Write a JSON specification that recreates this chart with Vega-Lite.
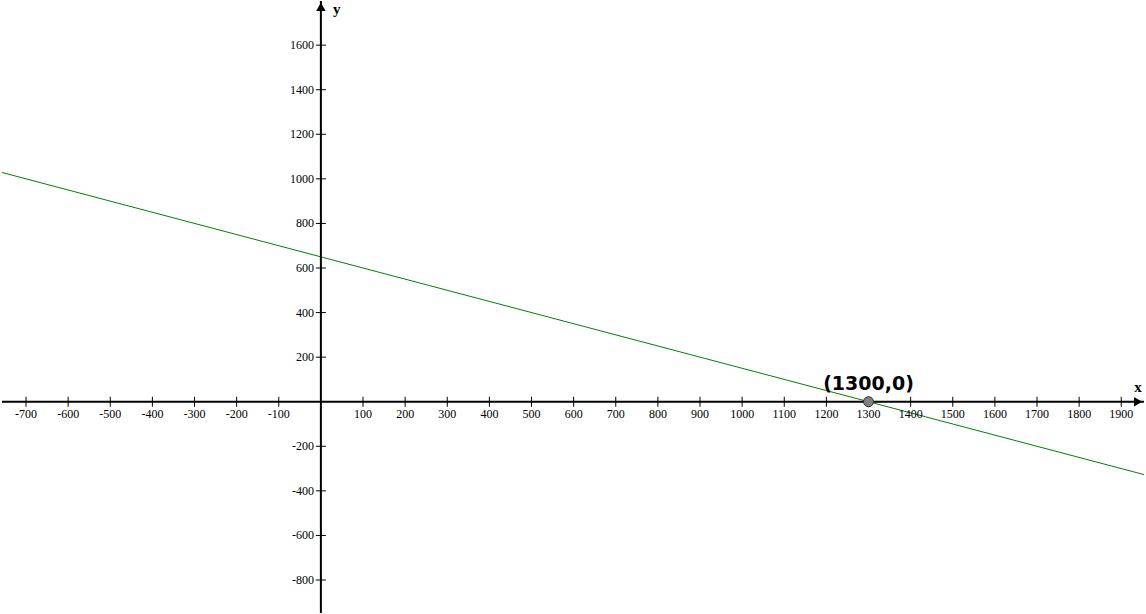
{
  "$schema": "https://vega.github.io/schema/vega-lite/v6.json",
  "width": 1146,
  "height": 614,
  "padding": 0,
  "autosize": {"type": "fit", "contains": "padding"},
  "background": "white",
  "config": {"view": {"stroke": null}, "axis": null},
  "datasets": {
    "line": [{"x": -757, "y": 1028.5}, {"x": 1954, "y": -327}],
    "one": [{"k": 1}],
    "xticks": [{"x": -700}, {"x": -600}, {"x": -500}, {"x": -400}, {"x": -300}, {"x": -200}, {"x": -100}, {"x": 100}, {"x": 200}, {"x": 300}, {"x": 400}, {"x": 500}, {"x": 600}, {"x": 700}, {"x": 800}, {"x": 900}, {"x": 1000}, {"x": 1100}, {"x": 1200}, {"x": 1300}, {"x": 1400}, {"x": 1500}, {"x": 1600}, {"x": 1700}, {"x": 1800}, {"x": 1900}],
    "yticks": [{"y": -800}, {"y": -600}, {"y": -400}, {"y": -200}, {"y": 200}, {"y": 400}, {"y": 600}, {"y": 800}, {"y": 1000}, {"y": 1200}, {"y": 1400}, {"y": 1600}],
    "pt": [{"x": 1300, "y": 0, "label": "(1300,0)"}]
  },
  "layer": [
    {
      "data": {"name": "line"},
      "mark": {"type": "line", "color": "#008000", "strokeWidth": 1},
      "encoding": {
        "x": {"field": "x", "type": "quantitative", "scale": {"domain": [-757, 1954], "nice": false, "zero": false}, "axis": null},
        "y": {"field": "y", "type": "quantitative", "scale": {"domain": [-948, 1798], "nice": false, "zero": false}, "axis": null}
      }
    },
    {
      "data": {"name": "one"},
      "mark": {"type": "rule", "color": "black", "strokeWidth": 2},
      "encoding": {"y": {"datum": 0, "type": "quantitative"}}
    },
    {
      "data": {"name": "one"},
      "mark": {"type": "rule", "color": "black", "strokeWidth": 2},
      "encoding": {"x": {"datum": 0, "type": "quantitative"}}
    },
    {
      "data": {"name": "xticks"},
      "mark": {"type": "tick", "orient": "vertical", "size": 10, "thickness": 1, "color": "black", "opacity": 1},
      "encoding": {"x": {"field": "x", "type": "quantitative"}, "y": {"datum": 0, "type": "quantitative"}}
    },
    {
      "data": {"name": "xticks"},
      "mark": {"type": "text", "font": "Liberation Serif", "fontSize": 12, "baseline": "middle", "align": "center", "dy": 12, "color": "black"},
      "encoding": {"x": {"field": "x", "type": "quantitative"}, "y": {"datum": 0, "type": "quantitative"}, "text": {"field": "x", "type": "nominal"}}
    },
    {
      "data": {"name": "yticks"},
      "mark": {"type": "tick", "orient": "horizontal", "size": 10, "thickness": 1, "color": "black", "opacity": 1},
      "encoding": {"y": {"field": "y", "type": "quantitative"}, "x": {"datum": 0, "type": "quantitative"}}
    },
    {
      "data": {"name": "yticks"},
      "mark": {"type": "text", "font": "Liberation Serif", "fontSize": 12, "baseline": "middle", "align": "right", "dx": -7, "color": "black"},
      "encoding": {"y": {"field": "y", "type": "quantitative"}, "x": {"datum": 0, "type": "quantitative"}, "text": {"field": "y", "type": "nominal"}}
    },
    {
      "data": {"name": "one"},
      "mark": {"type": "point", "shape": "triangle-up", "filled": true, "color": "black", "size": 90, "opacity": 1},
      "encoding": {"x": {"datum": 0, "type": "quantitative"}, "y": {"datum": 1772, "type": "quantitative"}}
    },
    {
      "data": {"name": "one"},
      "mark": {"type": "point", "shape": "triangle-right", "filled": true, "color": "black", "size": 90, "opacity": 1},
      "encoding": {"x": {"datum": 1940, "type": "quantitative"}, "y": {"datum": 0, "type": "quantitative"}}
    },
    {
      "data": {"name": "one"},
      "mark": {"type": "text", "text": "y", "font": "Liberation Serif", "fontWeight": "bold", "fontSize": 15, "align": "left", "baseline": "middle", "dx": 12},
      "encoding": {"x": {"datum": 0, "type": "quantitative"}, "y": {"datum": 1762, "type": "quantitative"}}
    },
    {
      "data": {"name": "one"},
      "mark": {"type": "text", "text": "x", "font": "Liberation Serif", "fontWeight": "bold", "fontSize": 15, "align": "center", "baseline": "middle", "dy": -15},
      "encoding": {"x": {"datum": 1940, "type": "quantitative"}, "y": {"datum": 0, "type": "quantitative"}}
    },
    {
      "data": {"name": "pt"},
      "mark": {"type": "point", "shape": "circle", "filled": true, "fill": "#808080", "stroke": "#303030", "strokeWidth": 1, "size": 100, "opacity": 1},
      "encoding": {"x": {"field": "x", "type": "quantitative"}, "y": {"field": "y", "type": "quantitative"}}
    },
    {
      "data": {"name": "pt"},
      "mark": {"type": "text", "font": "DejaVu Sans", "fontWeight": "bold", "fontSize": 19, "align": "center", "baseline": "middle", "dy": -18, "color": "black"},
      "encoding": {"x": {"field": "x", "type": "quantitative"}, "y": {"field": "y", "type": "quantitative"}, "text": {"field": "label"}}
    }
  ]
}
